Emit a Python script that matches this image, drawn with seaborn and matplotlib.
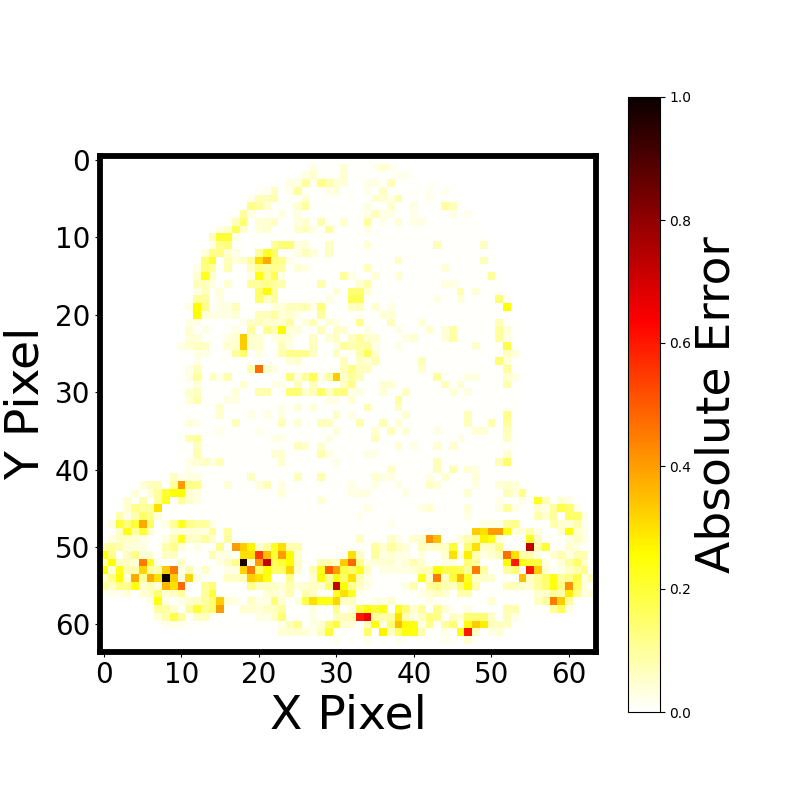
import numpy as np
import matplotlib
matplotlib.use("Agg")
import matplotlib.pyplot as plt
import seaborn as sns

# faint background extent of the object, first and last column per row
row_first = [27, 27, 24, 22, 20, 19, 18, 17, 16, 15, 14, 14, 13, 13, 12, 12, 12, 12, 12, 11, 11, 11, 11, 11, 10, 10, 10, 10, 10, 10, 10, 10, 10, 10, 10, 10, 10, 10, 10, 10, 10, 9, 5, 3, 3, 2, 2, 1, 1, 1, 0, 0, 0, 0, 0, 0, 1, 6, 7, 8, 9, 22, 28, 64]
row_last = [36, 38, 40, 43, 44, 45, 46, 47, 48, 48, 49, 49, 50, 50, 50, 51, 51, 52, 52, 52, 52, 53, 53, 53, 53, 53, 53, 53, 53, 53, 53, 53, 53, 53, 53, 53, 53, 53, 53, 53, 53, 54, 55, 56, 60, 61, 62, 62, 62, 63, 63, 63, 63, 63, 63, 63, 63, 62, 60, 56, 53, 52, 48, 0]

# brighter cells, one string per row, "column:error in hundredths"
row_cells = [
    "",
    "27:3 31:4 35:2 36:5 37:2",
    "26:3 27:5 31:5 38:2 39:2",
    "24:3 25:3 26:10 27:2 28:12 29:8 30:4 31:4 34:3 35:3 37:7",
    "21:2 22:6 24:2 25:10 29:3 30:4 34:2 36:6 42:2 44:2",
    "19:2 20:7 21:7 22:8 26:5 35:5 36:5 37:3 38:8 42:2",
    "19:12 20:10 21:5 25:5 26:10 34:3 37:5 40:3 44:10 45:7",
    "18:10 19:3 23:3 25:3 34:3 35:7 36:3 37:3 40:2 45:3 47:2",
    "17:7 18:14 20:4 21:5 22:6 25:3 26:5 28:8 31:5 34:10 36:2 38:5 40:3 41:3",
    "15:3 16:5 17:17 18:5 20:4 21:5 25:5 26:7 27:3 29:10 34:3",
    "14:7 15:20 16:20 17:3",
    "14:3 15:12 16:13 22:10 23:14 24:14 25:3 26:4 29:6 34:4 43:7 49:6",
    "13:4 14:12 15:12 16:5 17:3 20:10 21:22 22:16 25:3 26:7 27:4 29:6",
    "13:14 14:20 16:7 17:4 18:5 19:10 20:30 21:38 22:13 23:12 24:3 38:6 49:7",
    "12:3 13:13 14:10 16:8 19:6 20:12 21:10 22:12 23:10 25:4 26:3 34:7 44:4",
    "12:5 13:22 14:5 19:3 20:24 21:10 22:17 23:3 31:10 32:3 35:4 38:5 50:10",
    "12:7 13:7 14:3 16:5 19:10 20:10 21:12 22:10 23:8 28:8 33:5 34:8 44:3 45:3",
    "12:3 13:7 15:4 20:15 21:26 22:10 30:5 32:14 33:14 34:5 46:8 48:4",
    "12:10 13:10 15:3 20:15 21:6 22:10 29:3 32:17 33:17 43:3 46:4 51:14",
    "11:3 12:26 13:12 15:3 16:3 17:7 22:4 23:4 24:7 25:7 26:8 27:3 28:13 32:6 33:7 35:5 37:3 52:25",
    "12:26 13:4 14:3 15:3 16:3 17:4 20:7 21:7 22:10 23:4 24:5 25:3 28:10 36:4 37:4",
    "11:3 12:3 18:2 19:6 20:7 21:5 22:5 23:5 24:10 26:4 27:8 29:5 30:3 33:12 37:7 41:4 51:7",
    "11:5 13:3 17:3 19:10 21:12 22:7 23:26 24:4 25:4 28:7 30:6 31:5 34:3 38:3 42:5 44:4 45:9 51:10 52:4",
    "11:4 12:4 16:3 17:5 18:33 19:5 20:4 22:3 23:5 24:4 27:6 29:5 30:6 32:6 33:10 34:5 35:5 39:3 40:5 44:4 45:9 51:10 52:3",
    "10:3 11:5 12:6 13:6 16:5 17:5 18:33 19:5 20:5 23:7 24:3 27:7 30:3 31:10 32:8 33:9 34:10 35:3 38:3 48:5 52:18",
    "12:3 13:3 17:10 18:15 20:3 23:8 24:12 25:12 26:12 27:6 30:7 33:8 34:17 35:5 52:6 53:4",
    "12:2 24:4 25:5 31:7 33:6 34:4 35:8 41:7 51:14 52:4",
    "11:3 12:7 19:8 20:47 21:5 22:3 31:7 32:12 33:7 34:7 41:5 52:10",
    "11:3 12:10 14:6 15:3 16:8 24:14 25:4 26:10 27:17 28:3 29:10 30:33 31:5 32:10 33:7 43:10 47:3 48:3 52:5 53:3",
    "12:4 18:5 22:3 23:3 25:7 27:7 31:6 32:12 36:5 37:5 44:7 46:5 52:8",
    "11:5 12:6 17:4 20:8 21:8 24:14 25:14 26:5 27:7 28:16 29:6 30:13 31:13 32:3 33:3 36:4 39:6 45:4 47:3",
    "11:4 12:8 16:3 17:3 29:3 30:3 32:4 38:10",
    "15:5 23:3 25:4 27:4 34:8 38:6",
    "15:5 19:3 21:3 23:3 30:6 32:3 39:5 47:7 52:12",
    "11:4 12:2 17:7 23:7 25:4 28:7 29:6 33:8 36:8 38:5 47:7 50:8 52:10",
    "15:2 20:2 30:4 35:5 37:7 39:4 43:3 48:4 49:4 52:7",
    "11:8 12:10 22:3 23:3 29:3 35:7 46:3 52:6",
    "12:7 25:7 26:5 28:5 38:5 40:3 43:5 45:5",
    "12:8 22:5 23:5 28:8 29:3 34:3 35:2 52:5",
    "11:3 12:5 13:6 14:3 15:7 23:5 30:3 43:7 51:7 52:15",
    "11:2 37:6 43:7 45:8 47:5 48:3",
    "9:6 10:2 11:3 12:3 19:6 25:7 28:8 35:5 36:3 37:3 42:3 44:5 48:4",
    "5:4 6:7 7:7 9:10 10:40 11:12 12:12 16:4 20:4 21:7 23:3 32:3 35:3 38:3 42:6 43:4 48:3 51:4 52:5 53:4",
    "4:4 6:4 7:10 8:20 9:25 10:25 11:5 12:3 23:4 32:3 33:3 34:3 39:3 47:5 52:7 53:4 54:12",
    "3:5 5:8 7:10 8:22 10:10 11:5 12:3 28:5 51:3 54:3 56:22 57:8 59:5 60:3",
    "3:5 4:12 5:10 6:10 7:30 34:3 41:3 42:5 47:4 51:3 52:10 53:3 56:5 57:3 58:10 59:18 60:15 61:3",
    "2:8 3:3 4:8 5:15 6:12 7:4 33:2 47:3 56:8 57:5 58:10 60:15 61:15 62:3",
    "1:3 2:20 3:13 4:20 5:38 6:15 8:3 9:10 10:22 11:12 12:10 13:10 14:3 37:2 49:3 50:3 51:3 52:10 53:12 58:8 59:5 60:5 61:8 62:2",
    "2:6 3:24 4:10 5:20 6:5 9:4 10:4 11:4 12:4 13:3 14:10 16:10 48:33 49:30 50:40 51:40 52:25 53:4 54:4 55:8 56:3 59:5 60:25 61:5 62:3",
    "1:3 2:6 3:6 4:5 5:3 8:3 9:8 10:22 11:6 12:6 13:10 14:5 16:10 33:6 37:6 38:3 40:5 41:5 42:42 43:35 46:4 47:8 48:10 49:27 50:24 51:4 55:22 56:6 60:3 61:6 62:3",
    "0:8 1:10 2:8 3:4 4:4 5:3 8:8 9:12 10:4 12:3 15:12 17:40 18:33 19:27 20:5 21:10 22:22 23:30 24:8 25:8 35:10 36:5 37:10 38:6 39:4 41:7 42:5 43:6 44:6 45:20 47:14 48:30 49:6 50:6 51:12 55:73 56:8 57:20 60:5 61:3",
    "0:24 1:12 3:6 4:12 5:4 6:4 8:6 9:6 14:8 15:3 16:3 18:30 19:30 20:55 21:35 22:20 23:40 24:26 25:5 32:30 33:6 35:10 36:3 37:5 38:3 39:3 41:3 44:5 45:30 46:4 47:28 48:8 49:3 50:5 51:7 52:47 53:30 54:8 55:8 56:3 58:5 59:8 60:3 61:8 62:8",
    "0:8 1:25 2:6 3:6 4:4 5:45 6:22 7:3 10:6 15:3 16:6 17:12 18:97 19:4 20:40 21:72 22:17 23:20 24:25 25:6 28:8 29:8 30:5 31:33 32:48 33:12 34:3 35:4 36:5 37:5 38:2 39:4 40:8 41:5 44:3 45:3 47:14 48:10 52:26 53:60 54:24 55:20 56:20 57:3 59:4 60:10 61:15 62:5",
    "0:25 1:4 2:22 3:8 4:8 5:32 6:10 7:8 8:33 9:45 10:3 11:8 13:6 16:3 17:3 18:32 19:45 20:15 21:25 22:15 23:15 24:32 25:5 27:8 28:23 29:50 30:40 31:18 32:15 33:22 34:6 36:3 37:3 38:3 39:3 40:4 41:7 42:8 43:25 44:18 45:18 46:18 47:10 48:45 49:10 52:10 53:14 55:60 56:33 57:5 59:3 60:6 61:8 62:12",
    "0:5 1:12 2:25 3:4 4:38 5:10 6:38 7:30 8:100 9:33 10:3 11:32 12:3 16:6 17:6 18:7 19:33 20:30 21:24 24:12 27:5 28:25 29:10 30:25 31:15 32:30 33:8 34:3 41:22 42:5 43:45 44:6 45:20 46:36 47:22 48:6 49:6 50:5 54:35 55:6 56:10 57:15 58:24 59:10 60:12 61:18 62:3 63:8",
    "0:10 1:6 2:12 3:12 4:24 5:5 6:8 7:4 8:36 9:30 10:48 13:10 14:14 19:12 20:6 21:6 22:6 23:4 24:8 25:4 26:5 27:6 28:5 29:14 30:72 31:25 32:12 33:6 34:3 39:3 40:8 42:10 43:12 44:8 45:6 46:14 47:25 48:8 52:7 53:7 54:5 55:5 56:10 57:14 58:24 59:12 60:42 61:16 62:4",
    "0:2 1:2 2:2 3:4 5:5 6:6 7:14 8:5 9:6 10:10 13:10 14:20 21:5 22:5 23:3 24:8 26:8 27:6 30:22 31:30 32:22 33:2 41:3 42:4 43:7 44:5 46:8 47:8 56:5 57:5 58:10 59:8 60:28 61:12 62:3 63:5",
    "6:3 7:24 8:3 10:3 11:5 12:6 13:10 14:14 15:33 16:4 17:3 19:6 20:3 21:3 22:14 23:5 25:3 26:18 27:30 28:24 29:24 30:32 31:6 32:6 35:2 36:3 37:5 42:3 50:5 56:6 57:10 58:45 59:33 60:10",
    "7:10 8:10 9:5 11:10 12:20 13:12 14:14 15:40 18:5 19:5 20:4 21:6 22:6 23:10 27:3 30:12 32:3 33:18 34:24 35:20 36:24 38:22 39:14 40:5 41:10 43:12 44:5 47:3 52:8 53:8 58:10 59:17 60:3",
    "7:4 8:8 9:18 10:10 12:6 13:7 20:3 21:3 22:6 23:14 27:3 30:7 31:7 32:8 33:60 34:66 35:10 36:8 37:10 38:30 39:8 40:3 41:6 42:13 43:12 45:6 46:5 47:14 48:14 49:14 50:6 52:7 53:3",
    "8:2 9:2 10:2 23:2 24:7 25:12 27:3 28:5 29:14 30:20 31:5 32:4 34:7 35:24 36:3 37:14 38:35 39:25 40:24 41:3 42:12 44:10 45:14 47:24 48:33 49:28 50:7 51:6 52:6",
    "23:4 24:5 25:5 26:4 27:2 28:7 29:20 34:15 36:27 37:6 38:15 39:24 40:24 41:8 44:3 46:24 47:60 48:6 50:3 51:4",
    "30:2 34:2 38:2 44:2 47:5",
    "",
]

x_ticks = [0, 10, 20, 30, 40, 50, 60]
y_ticks = [0, 10, 20, 30, 40, 50, 60]

error = np.zeros((64, 64))
for r in range(64):
    if row_first[r] <= row_last[r]:
        error[r, row_first[r]:row_last[r] + 1] = 0.007
    for item in row_cells[r].split():
        c, v = item.split(":")
        error[r, int(c)] = int(v) / 100

fig = plt.figure(figsize=(8, 8), dpi=100)
ax = fig.add_axes([100 / 800, 1 - 651.5 / 800, 496 / 800, 495.5 / 800])
cax = fig.add_axes([627.5 / 800, 1 - 712 / 800, 32 / 800, 615 / 800])

sns.heatmap(error, ax=ax, cbar_ax=cax, cmap="hot_r", vmin=0, vmax=1)

ax.set_xticks([t + 0.5 for t in x_ticks])
ax.set_xticklabels(x_ticks, rotation=0)
ax.set_yticks([t + 0.5 for t in y_ticks])
ax.set_yticklabels(y_ticks, rotation=0, va="center_baseline")
ax.tick_params(labelsize=20)
ax.set_xlabel("X Pixel", fontsize=34, labelpad=3)
ax.set_ylabel("Y Pixel", fontsize=34, labelpad=4.5)
for s in ax.spines.values():
    s.set_visible(True)
    s.set_linewidth(4.2)
    s.set_color("black")

cbar = ax.collections[0].colorbar
cbar.set_ticks([0.0, 0.2, 0.4, 0.6, 0.8, 1.0])
cbar.ax.tick_params(labelsize=10)
cbar.set_label("Absolute Error", fontsize=34, labelpad=2.5)
cbar.outline.set_visible(True)
cbar.outline.set_linewidth(0.8)
cbar.outline.set_edgecolor("black")

fig.savefig("out.png", dpi=100)
